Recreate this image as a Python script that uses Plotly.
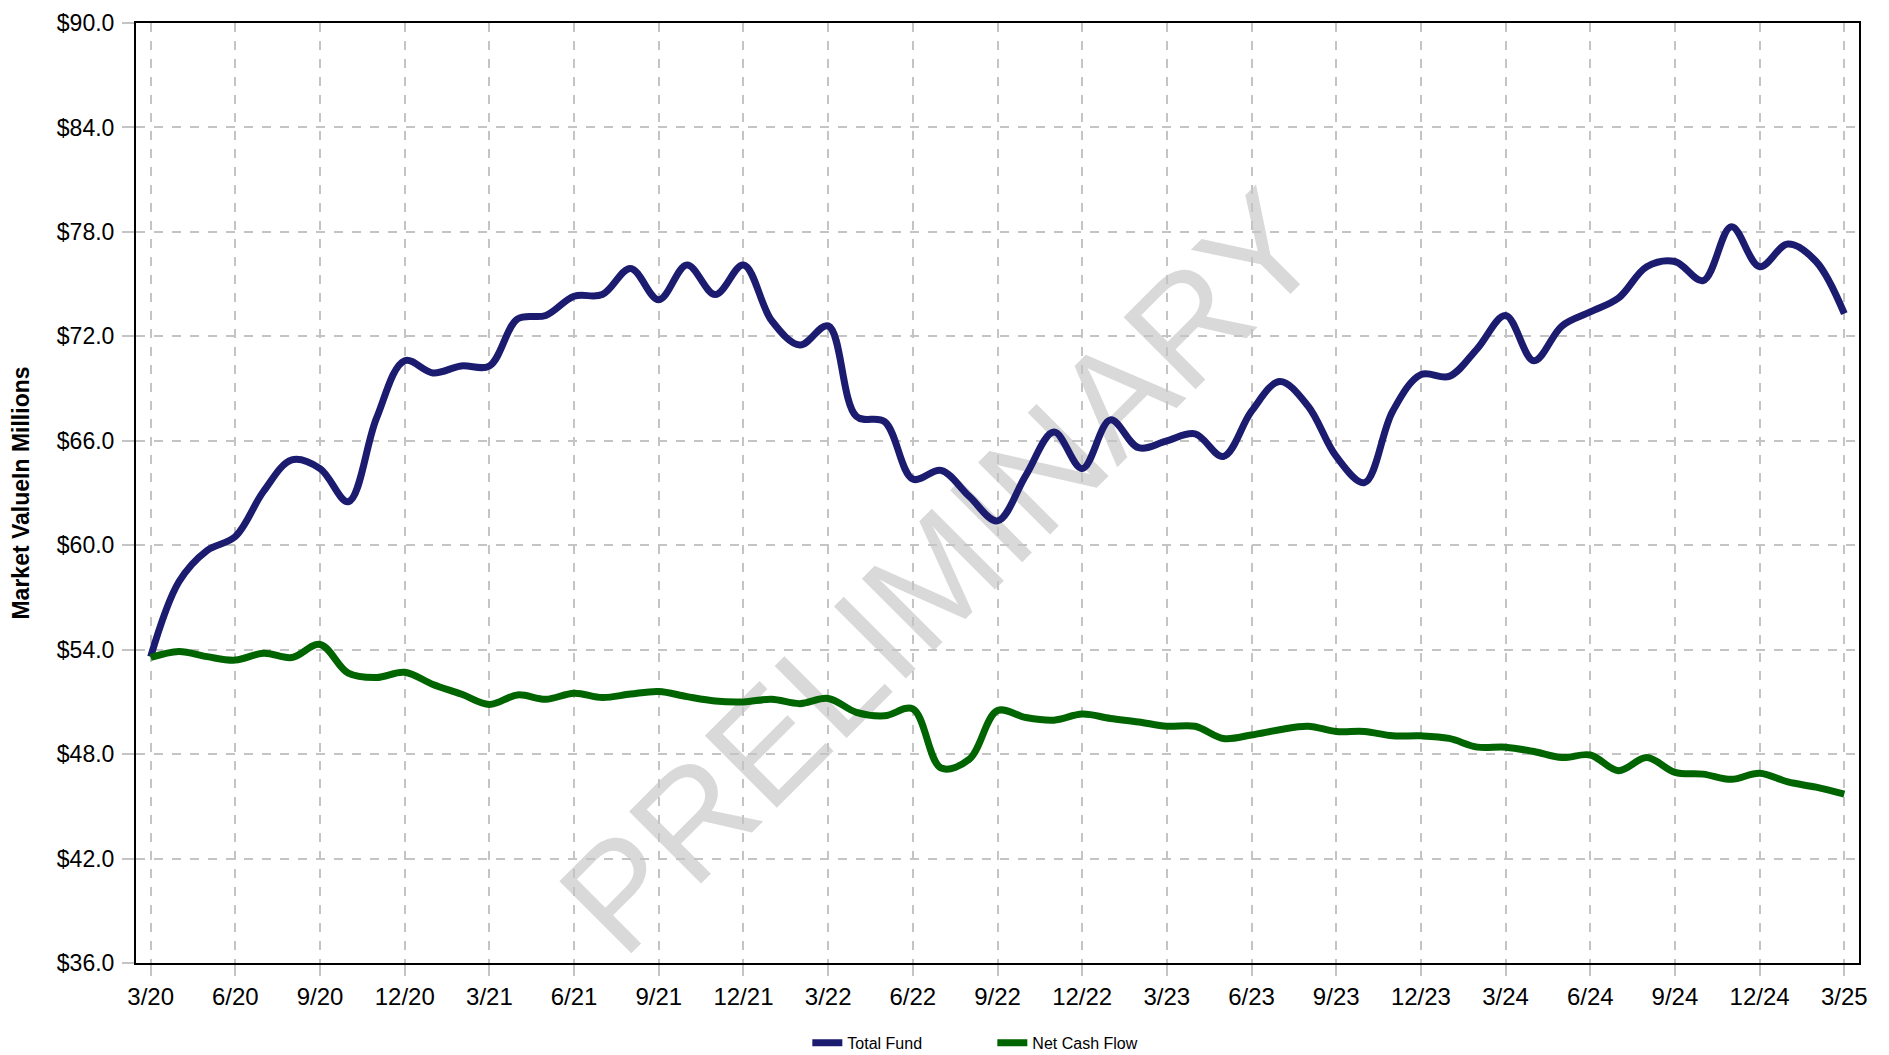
import plotly.graph_objects as go

# Monthly periods 3/20 .. 3/25
months = [f"{m}/{y:02d}" for y in range(20, 26) for m in range(1, 13)][2:63]

tick_labels = ["3/20", "6/20", "9/20", "12/20", "3/21", "6/21", "9/21", "12/21",
               "3/22", "6/22", "9/22", "12/22", "3/23", "6/23", "9/23", "12/23",
               "3/24", "6/24", "9/24", "12/24", "3/25"]

total_fund = [53.6, 57.9, 59.7, 60.5, 63.1, 64.9, 64.4, 62.5, 67.3, 70.6,
              69.9, 70.3, 70.3, 73.0, 73.2, 74.3, 74.4, 75.9, 74.1, 76.1,
              74.4, 76.1, 72.9, 71.5, 72.6, 67.4, 67.1, 63.8, 64.3, 62.8,
              61.4, 64.0, 66.5, 64.4, 67.2, 65.6, 66.0, 66.4, 65.1, 67.7,
              69.4, 68.0, 65.1, 63.6, 67.7, 69.8, 69.7, 71.3, 73.2, 70.6,
              72.6, 73.4, 74.2, 76.0, 76.3, 75.2, 78.3, 76.0, 77.3, 76.3,
              73.3]

net_cash_flow = [53.55, 53.9, 53.6, 53.4, 53.8, 53.55, 54.3, 52.65, 52.4, 52.7,
                 52.0, 51.45, 50.85, 51.4, 51.15, 51.5, 51.25, 51.45, 51.6, 51.3,
                 51.05, 51.0, 51.15, 50.9, 51.2, 50.4, 50.2, 50.6, 47.2, 47.7,
                 50.5, 50.1, 49.95, 50.3, 50.05, 49.85, 49.6, 49.6, 48.9, 49.1,
                 49.4, 49.6, 49.3, 49.3, 49.05, 49.05, 48.9, 48.4, 48.4, 48.15,
                 47.8, 47.95, 47.05, 47.8, 46.95, 46.85, 46.55, 46.9, 46.4, 46.1,
                 45.7]

y_ticks = [36, 42, 48, 54, 60, 66, 72, 78, 84, 90]

FONT = "Liberation Sans, Arial, sans-serif"

fig = go.Figure()
fig.add_trace(go.Scatter(x=months, y=total_fund, name="Total Fund", mode="lines",
                         line=dict(color="#1b1b6f", width=7, shape="spline", smoothing=1.0)))
fig.add_trace(go.Scatter(x=months, y=net_cash_flow, name="Net Cash Flow", mode="lines",
                         line=dict(color="#006400", width=7, shape="spline", smoothing=1.0)))

fig.add_shape(type="rect", xref="paper", yref="paper",
              x0=0.451, x1=0.471, y0=0.417, y1=0.437,
              line=dict(width=0), fillcolor="rgba(0,0,0,0)", layer="below",
              label=dict(text="PRELIMINARY", textangle=-45, textposition="middle center",
                         font=dict(size=148, color="rgba(120,120,120,0.28)", family=FONT)))

fig.update_layout(
    width=1889, height=1055,
    margin=dict(l=128, r=38, t=15, b=100, autoexpand=False),
    paper_bgcolor="white", plot_bgcolor="white",
    font=dict(family=FONT, color="black"),
    showlegend=True,
    legend=dict(orientation="h", x=0.497, xanchor="center", y=-0.085, yanchor="middle",
                font=dict(size=16), entrywidth=140, entrywidthmode="pixels"),
)

fig.update_xaxes(
    type="category", categoryorder="array", categoryarray=months,
    range=[-0.52, 60.52], automargin=False, ticklabeloverflow="allow",
    tickmode="array", tickvals=tick_labels, ticktext=tick_labels,
    tickfont=dict(size=24),
    showgrid=True, gridcolor="#c4c4c4", gridwidth=1.5, griddash="dash",
    showline=True, linecolor="black", linewidth=2, mirror=True,
    ticks="outside", ticklen=11, tickcolor="#c4c4c4", tickwidth=1.5,
    ticklabelstandoff=0, zeroline=False,
)

fig.update_yaxes(
    range=[36, 90], automargin=False, ticklabeloverflow="allow",
    tickmode="array", tickvals=y_ticks,
    ticktext=[f"${v:.1f}" for v in y_ticks],
    tickfont=dict(size=23),
    showgrid=True, gridcolor="#c4c4c4", gridwidth=1.5, griddash="dash",
    showline=True, linecolor="black", linewidth=2, mirror=True,
    ticks="outside", ticklen=12, tickcolor="#c4c4c4", tickwidth=1.5,
    ticklabelstandoff=3, zeroline=False,
    title=dict(text="<b>Market ValueIn Millions</b>", font=dict(size=23), standoff=22),
)

fig.write_html("out.html")
